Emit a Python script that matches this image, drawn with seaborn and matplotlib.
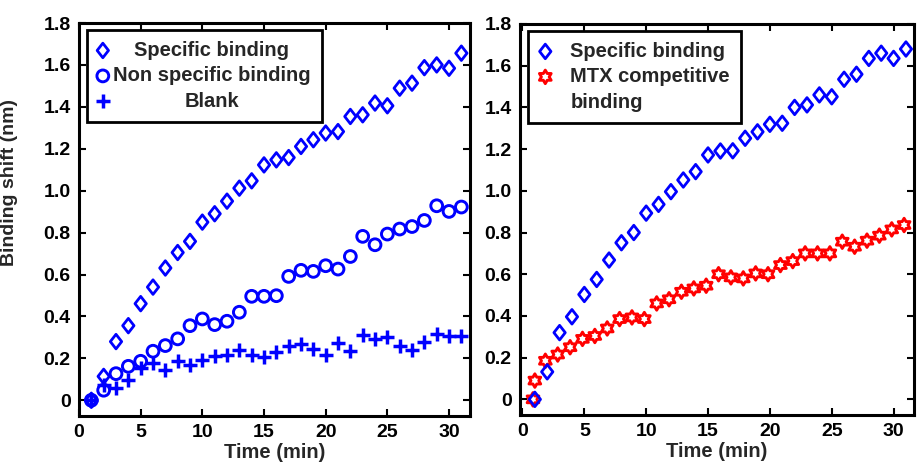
import numpy as np
import matplotlib
matplotlib.use("Agg")
import matplotlib.pyplot as plt
from matplotlib.path import Path
from matplotlib.lines import Line2D
import seaborn as sns

# ---- data -------------------------------------------------------------
time_min = list(range(1, 32))

left_specific = [0.00, 0.114, 0.28, 0.356, 0.461, 0.54, 0.631, 0.705, 0.758, 0.85,
                 0.89, 0.95, 1.012, 1.047, 1.123, 1.147, 1.158, 1.211, 1.243, 1.275,
                 1.282, 1.354, 1.362, 1.418, 1.405, 1.489, 1.513, 1.587, 1.60, 1.584,
                 1.656]
left_nonspecific = [0.00, 0.048, 0.127, 0.162, 0.186, 0.234, 0.261, 0.293, 0.356, 0.388,
                    0.361, 0.377, 0.42, 0.496, 0.496, 0.499, 0.591, 0.62, 0.615, 0.642,
                    0.626, 0.686, 0.782, 0.742, 0.793, 0.817, 0.829, 0.858, 0.928, 0.901,
                    0.922]
left_blank = [0.00, 0.075, 0.059, 0.099, 0.154, 0.178, 0.146, 0.186, 0.17, 0.191,
              0.213, 0.218, 0.242, 0.218, 0.207, 0.229, 0.257, 0.27, 0.245, 0.218,
              0.274, 0.234, 0.313, 0.293, 0.302, 0.257, 0.242, 0.276, 0.318, 0.305,
              0.305]

right_specific = [0.00, 0.132, 0.32, 0.396, 0.503, 0.575, 0.668, 0.751, 0.80, 0.893,
                  0.935, 0.996, 1.052, 1.092, 1.172, 1.191, 1.192, 1.252, 1.283, 1.319,
                  1.324, 1.40, 1.412, 1.46, 1.451, 1.535, 1.559, 1.635, 1.66, 1.635,
                  1.68]
mtx_time = [0.85, 1.0, 1.85, 2.85, 3.85, 4.85, 5.85, 6.85, 7.85, 8.85, 9.85, 10.85,
            11.85, 12.85, 13.85, 14.85, 15.85, 16.85, 17.85, 18.85, 19.85, 20.85,
            21.85, 22.85, 23.85, 24.85, 25.85, 26.85, 27.85, 28.85, 29.85, 30.85]
mtx_competitive = [0.00, 0.09, 0.185, 0.215, 0.25, 0.29, 0.304, 0.34, 0.385, 0.393,
                   0.385, 0.46, 0.48, 0.516, 0.532, 0.545, 0.60, 0.585, 0.58, 0.604,
                   0.60, 0.644, 0.663, 0.70, 0.70, 0.70, 0.756, 0.732, 0.761, 0.785,
                   0.815, 0.836]

x_ticks = [0, 5, 10, 15, 20, 25, 30]
y_ticks = [0, 0.2, 0.4, 0.6, 0.8, 1.0, 1.2, 1.4, 1.6, 1.8]
y_tick_labels = ["0", "0.2", "0.4", "0.6", "0.8", "1.0", "1.2", "1.4", "1.6", "1.8"]

# ---- style ------------------------------------------------------------
sns.set_style("ticks")
plt.rcParams["font.family"] = ["Liberation Sans", "DejaVu Sans"]
plt.rcParams["font.weight"] = "bold"
plt.rcParams["axes.labelweight"] = "bold"

BLUE = "#0000ff"
RED = "#ff0000"

# open diamond, slightly narrower than tall
diamond = Path([(0, 1), (0.78, 0), (0, -1), (-0.78, 0), (0, 1)],
               [Path.MOVETO, Path.LINETO, Path.LINETO, Path.LINETO, Path.CLOSEPOLY])
# six-pointed star (hexagram)
ang = np.pi / 2 + np.arange(12) * np.pi / 6
rad = np.where(np.arange(12) % 2 == 0, 1.0, 0.577)
hex_verts = list(zip(rad * np.cos(ang), rad * np.sin(ang))) + [(0, 1)]
hexagram = Path(hex_verts, [Path.MOVETO] + [Path.LINETO] * 11 + [Path.CLOSEPOLY])

fig = plt.figure(figsize=(9.17, 4.66), dpi=100)
fig.patch.set_facecolor("white")
W, H = 917, 466
ax1 = fig.add_axes([79 / W, 1 - 416 / H, 391 / W, 393 / H])
ax2 = fig.add_axes([520 / W, 1 - 415 / H, 394 / W, 391 / H])

LEG_PROP = {"weight": "bold", "size": 14.5}


def style_axes(ax, xlim):
    ax.set_xlim(*xlim)
    ax.set_ylim(-0.075, 1.8)
    ax.set_xticks(x_ticks)
    ax.set_yticks(y_ticks)
    ax.set_yticklabels(y_tick_labels)
    for s in ax.spines.values():
        s.set_visible(True)
        s.set_linewidth(2.2)
        s.set_color("black")
    ax.tick_params(direction="in", length=5, width=1.5, top=True, right=True,
                   labelsize=14, pad=6, colors="black")
    for lab in ax.get_xticklabels() + ax.get_yticklabels():
        lab.set_fontweight("bold")
    ax.set_xlabel("Time (min)", fontsize=14.5, fontweight="bold", labelpad=1)


# ---- left panel -------------------------------------------------------
sns.scatterplot(x=time_min, y=left_specific, marker=diamond, s=110,
                facecolor="none", edgecolor=BLUE, linewidth=2.0, ax=ax1,
                label="Specific binding", zorder=3)
sns.scatterplot(x=time_min, y=left_nonspecific, marker="o", s=72,
                facecolor="none", edgecolor=BLUE, linewidth=2.1, ax=ax1,
                label="Non specific binding", zorder=3)
sns.scatterplot(x=time_min, y=left_blank, marker="+", s=100,
                color=BLUE, linewidth=2.5, ax=ax1, label="Blank", zorder=3)
style_axes(ax1, (0, 31.7))
ax1.set_ylabel("Binding shift (nm)", fontsize=14, fontweight="bold")
ax1.yaxis.set_label_coords(-0.155, 0.595)

h1, l1 = ax1.get_legend_handles_labels()
leg1 = ax1.legend(h1, l1, loc="upper left", bbox_to_anchor=(0.02, 0.983),
                  borderaxespad=0, frameon=True, fancybox=False,
                  prop=LEG_PROP, handlelength=0.49,
                  handletextpad=0.25, labelspacing=0.32, borderpad=0.55,
                  edgecolor="black", framealpha=1)
leg1.get_frame().set_linewidth(2.0)

# ---- right panel ------------------------------------------------------
sns.scatterplot(x=time_min, y=right_specific, marker=diamond, s=110,
                facecolor="none", edgecolor=BLUE, linewidth=2.0, ax=ax2,
                label="Specific binding", zorder=4)
sns.scatterplot(x=mtx_time, y=mtx_competitive, marker=hexagram, s=95,
                facecolor="none", edgecolor=RED, linewidth=2.1, ax=ax2,
                label="MTX competitive", zorder=3)
style_axes(ax2, (-0.2, 31.65))
ax2.set_ylabel("")

h2, l2 = ax2.get_legend_handles_labels()
h2 = [h2[0], h2[1], Line2D([], [], linestyle="none")]
l2 = [l2[0], l2[1], "binding"]
leg2 = ax2.legend(h2, l2, loc="upper left", bbox_to_anchor=(0.021, 0.983),
                  borderaxespad=0, frameon=True, fancybox=False,
                  prop=LEG_PROP, handlelength=0.59,
                  handletextpad=0.95, labelspacing=0.32, borderpad=0.55,
                  edgecolor="black", framealpha=1)
leg2.get_frame().set_linewidth(2.0)

# centre the left legend labels within their column
fig.canvas.draw()
renderer = fig.canvas.get_renderer()
texts = leg1.get_texts()
widths = [t.get_window_extent(renderer).width for t in texts]
wmax = max(widths)
for t, w in zip(texts, widths):
    t.set_position(((wmax - w) / 2, 0))

fig.savefig("out.png", dpi=100, facecolor="white")
